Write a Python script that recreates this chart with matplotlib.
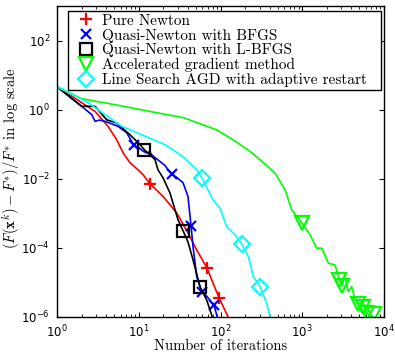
import matplotlib
matplotlib.use("Agg")
import math
import matplotlib.pyplot as plt
from matplotlib.lines import Line2D
from matplotlib.ticker import FixedLocator, LogLocator, FuncFormatter, NullFormatter

plt.rcParams['mathtext.fontset'] = 'custom'
plt.rcParams['mathtext.rm'] = 'Liberation Sans'
plt.rcParams['mathtext.it'] = 'Liberation Sans:italic'
plt.rcParams['mathtext.bf'] = 'Liberation Sans:bold'

# ---- data ----
newton_x = [1, 2.0, 2.92, 4.2, 5.37, 6.42, 7.81, 9.79, 11.3, 13.7, 19.8, 29.1, 40.0, 51.2, 68.4, 80.9, 95.9, 124, 132]
newton_y = [4.64, 1.6, 0.89, 0.33, 0.135, 0.057, 0.029, 0.0182, 0.0131, 0.0072, 0.0031, 0.00103, 2.7e-4, 8.7e-5, 2.6e-5, 9.7e-6, 3.6e-6, 1.0e-6, 7e-7]
newton_mx = [13.7, 68.4, 95.9]
newton_my = [0.0072, 2.6e-5, 3.6e-6]

bfgs_x = [1, 2.0, 2.66, 2.92, 3.3, 3.87, 5.57, 7.12, 8.75, 10.0, 11.4, 12.5, 13.5, 15.0, 15.8, 17.0, 19.1, 21.0, 23.0, 25.3, 29.0, 34.8, 40.0, 42.4, 43.6, 46.1, 51.2, 58.9, 70.3, 83.2, 89.9, 93]
bfgs_y = [4.64, 1.25, 0.72, 0.46, 0.50, 0.46, 0.33, 0.215, 0.092, 0.08, 0.062, 0.056, 0.060, 0.045, 0.041, 0.036, 0.029, 0.024, 0.018, 0.014, 0.011, 0.0077, 0.0031, 8.1e-4, 4.4e-4, 1.09e-4, 1.47e-5, 5.4e-6, 3.6e-6, 2.2e-6, 1.14e-6, 7e-7]
bfgs_mx = [8.75, 25.3, 43.6, 58.9, 83.2]
bfgs_my = [0.092, 0.014, 4.4e-4, 5.4e-6, 2.2e-6]

lbfgs_x = [1, 2.0, 2.92, 4.05, 5.37, 7.81, 10.4, 11.7, 15.8, 17.2, 19.8, 24.1, 30.2, 35.1, 40.0, 46.1, 56.1, 67.8, 78.0, 81]
lbfgs_y = [4.64, 1.25, 1.25, 0.51, 0.41, 0.188, 0.097, 0.069, 0.036, 0.0182, 0.0107, 0.0039, 6.5e-4, 3.0e-4, 1.5e-4, 4.5e-5, 7.6e-6, 3.1e-6, 1.14e-6, 7e-7]
lbfgs_mx = [11.7, 35.1, 56.1]
lbfgs_my = [0.069, 3.0e-4, 7.6e-6]

agd_x = [1, 2.0, 5.9, 13.7, 34.8, 89.9, 142, 230, 304, 464, 615, 743, 985, 1245, 1503, 1730, 2085, 2517, 2897, 3040, 3337, 3658, 4028, 4418, 4851, 5534, 6142, 7330, 7800]
agd_y = [4.64, 2.08, 1.31, 0.89, 0.59, 0.26, 0.135, 0.062, 0.036, 0.0146, 0.0048, 0.00126, 5.4e-4, 2.4e-4, 9.8e-5, 9.8e-5, 3.6e-5, 3.2e-5, 1.05e-5, 7.9e-6, 1.47e-5, 5.4e-6, 7.6e-6, 3.1e-6, 2.4e-6, 2.7e-6, 1.28e-6, 1.0e-6, 7e-7]
agd_mx = [985, 2800, 3040, 4851, 5534, 6142, 7500]
agd_my = [5.4e-4, 1.2e-5, 7.9e-6, 2.4e-6, 1.9e-6, 1.3e-6, 1.2e-6]

ls_x = [1, 2.39, 6.18, 21.0, 34.8, 51.2, 59.4, 80.9, 98.6, 119, 150, 182, 219, 252, 304, 367, 404, 420]
ls_y = [4.64, 1.6, 0.33, 0.097, 0.044, 0.0182, 0.0105, 0.00246, 0.00142, 4.1e-4, 2.4e-4, 1.3e-4, 5.6e-5, 1.47e-5, 7.6e-6, 2.5e-6, 1.0e-6, 7e-7]
ls_mx = [59.4, 182, 304]
ls_my = [0.0105, 1.3e-4, 7.6e-6]

labels = ['Pure Newton', 'Quasi-Newton with BFGS', 'Quasi-Newton with L-BFGS',
          'Accelerated gradient method', 'Line Search AGD with adaptive restart']
y_ticks = [1e-6, 1e-4, 1e-2, 1e0, 1e2]

# ---- plot ----
fig = plt.figure(figsize=(3.95, 3.53), dpi=100)
ax = fig.add_axes([57/395, 36/353, 327/395, 311/353])

series = [
    (newton_x, newton_y, newton_mx, newton_my, (1, 0, 0), '+', 9),
    (bfgs_x, bfgs_y, bfgs_mx, bfgs_my, (0, 0, 1), 'x', 7),
    (lbfgs_x, lbfgs_y, lbfgs_mx, lbfgs_my, (0, 0, 0), 's', 8),
    (agd_x, agd_y, agd_mx, agd_my, (0, 1, 0), 'v', 10),
    (ls_x, ls_y, ls_mx, ls_my, (0, 1, 1), 'D', 8),
]
handles = []
for x, y, mx, my, c, m, ms in series:
    ax.plot(x, y, color=c, lw=1.2)
    ax.plot(mx, my, linestyle='none', marker=m, ms=ms, mew=1.6,
            mfc='none', mec=c)
    handles.append(Line2D([], [], linestyle='none', marker=m, ms=ms, mew=1.6,
                          mfc='none', mec=c))

ax.set_xscale('log')
ax.set_yscale('log')
ax.set_xlim(1, 1e4)
ax.set_ylim(1e-6, 1e3)

ax.yaxis.set_major_locator(FixedLocator(y_ticks))
ax.yaxis.set_minor_locator(FixedLocator([]))
ax.xaxis.set_major_locator(LogLocator(base=10, numticks=10))
ax.xaxis.set_minor_locator(LogLocator(base=10, subs=range(2, 10), numticks=10))
ax.xaxis.set_minor_formatter(NullFormatter())

def fmt(v, pos):
    e = int(round(math.log10(v)))
    return r'$\mathregular{10^{%d}}$' % e

ax.xaxis.set_major_formatter(FuncFormatter(fmt))
ax.yaxis.set_major_formatter(FuncFormatter(fmt))

ax.tick_params(which='both', direction='in', top=True, right=True, labelsize=8.5, colors='black')
ax.tick_params(which='major', length=3.5, width=0.8)
ax.tick_params(axis='x', which='major', pad=5)
ax.tick_params(axis='y', which='major', pad=5)
ax.tick_params(which='minor', length=2, width=0.6)
for s in ax.spines.values():
    s.set_linewidth(1.0)

ax.set_xlabel('Number of iterations', fontfamily='cmr10', fontsize=10.5)
ax.xaxis.set_label_coords(0.5, -0.072)
ax.set_ylabel(r'$(F(\mathbf{x}^k) - F^{*})/F^{*}$ in log scale', fontfamily='cmr10',
              fontsize=10.5, math_fontfamily='cm')
ax.yaxis.set_label_coords(-0.108, 0.51)

leg = ax.legend(handles, labels, loc='upper left',
                bbox_to_anchor=(11/327, 0.984 - 0.3, 313/327, 0.3), mode='expand',
                borderaxespad=0, prop={'family': 'cmr10', 'size': 11},
                frameon=True, fancybox=False, edgecolor='black', framealpha=1,
                labelspacing=0.05, handlelength=2.0, handletextpad=0.05, borderpad=0.2)
leg.get_frame().set_linewidth(1.0)

fig.savefig('out.png', dpi=100)
